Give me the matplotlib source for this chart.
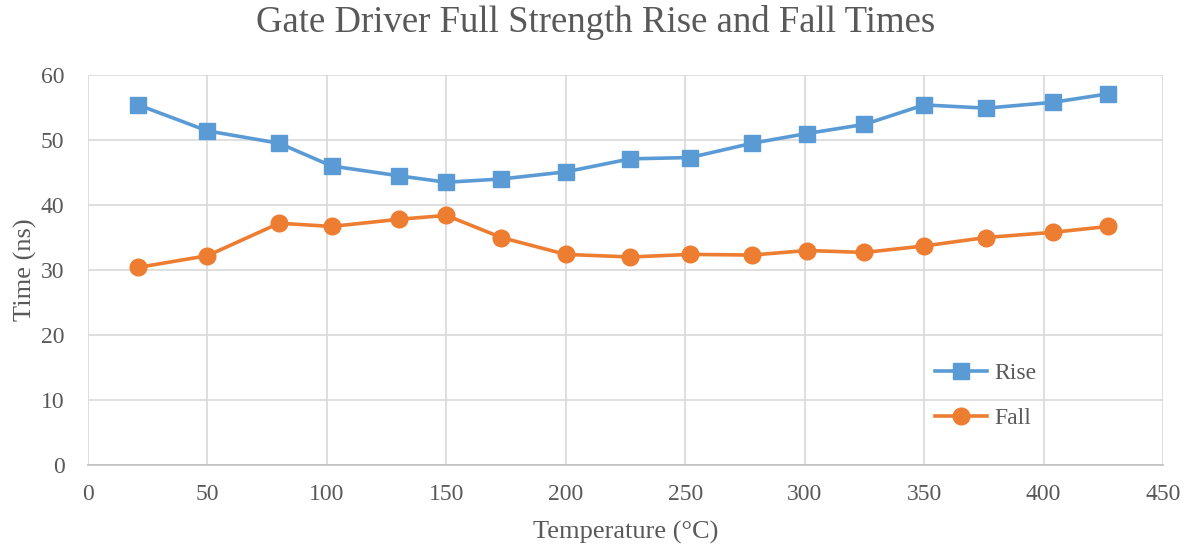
import matplotlib
matplotlib.use("Agg")
import matplotlib.pyplot as plt

temperature = [21, 50, 80, 102, 130, 150, 173, 200, 227, 252, 278, 301, 325, 350, 376, 404, 427]
rise = [55.4, 51.4, 49.5, 46.0, 44.5, 43.5, 44.0, 45.1, 47.1, 47.3, 49.5, 51.0, 52.4, 55.4, 54.9, 55.8, 57.1]
fall = [30.4, 32.2, 37.2, 36.7, 37.8, 38.4, 35.0, 32.4, 32.0, 32.4, 32.3, 33.0, 32.7, 33.7, 35.0, 35.8, 36.7]
x_ticks = [0, 50, 100, 150, 200, 250, 300, 350, 400, 450]
y_ticks = [0, 10, 20, 30, 40, 50, 60]

plt.rcParams['font.family'] = ['Liberation Serif', 'DejaVu Serif']
text_color = '#595959'

fig = plt.figure(figsize=(11.91, 5.5), dpi=100)
ax = fig.add_axes([88/1191, 1-465/550, (1163-88)/1191, (465-75)/550])

ax.plot(temperature, rise, color='#5B9BD5', lw=2.6, marker='s', ms=12, label='Rise', zorder=3)
ax.plot(temperature, fall, color='#ED7D31', lw=2.6, marker='o', ms=12, label='Fall', zorder=3)

ax.set_xlim(0, 450)
ax.set_ylim(0, 60)
ax.set_xticks(x_ticks)
ax.set_yticks(y_ticks)
ax.grid(True, color='#D9D9D9', lw=1.2, zorder=0)
for s in ['top', 'right', 'left']:
    ax.spines[s].set_visible(False)
ax.spines['bottom'].set_color('#BFBFBF')
ax.spines['bottom'].set_linewidth(1.2)
ax.tick_params(length=0, labelsize=17, colors=text_color)
ax.tick_params(axis='y', pad=17)
ax.tick_params(axis='x', pad=14)

ax.set_xlabel('Temperature (°C)', fontsize=19, color=text_color, labelpad=11)
ax.set_ylabel('Time (ns)', fontsize=19, color=text_color, labelpad=3)
fig.text(0.5, 1-22/550, 'Gate Driver Full Strength Rise and Fall Times', ha='center', va='center',
         fontsize=26.5, color=text_color)

leg = ax.legend(loc='center left', bbox_to_anchor=(914/1191, 1-396/550), bbox_transform=fig.transFigure,
                frameon=False, fontsize=17, handlelength=2.2, labelspacing=1.0, handletextpad=0.3)
for t in leg.get_texts():
    t.set_color(text_color)

fig.savefig('out.png', dpi=100)
